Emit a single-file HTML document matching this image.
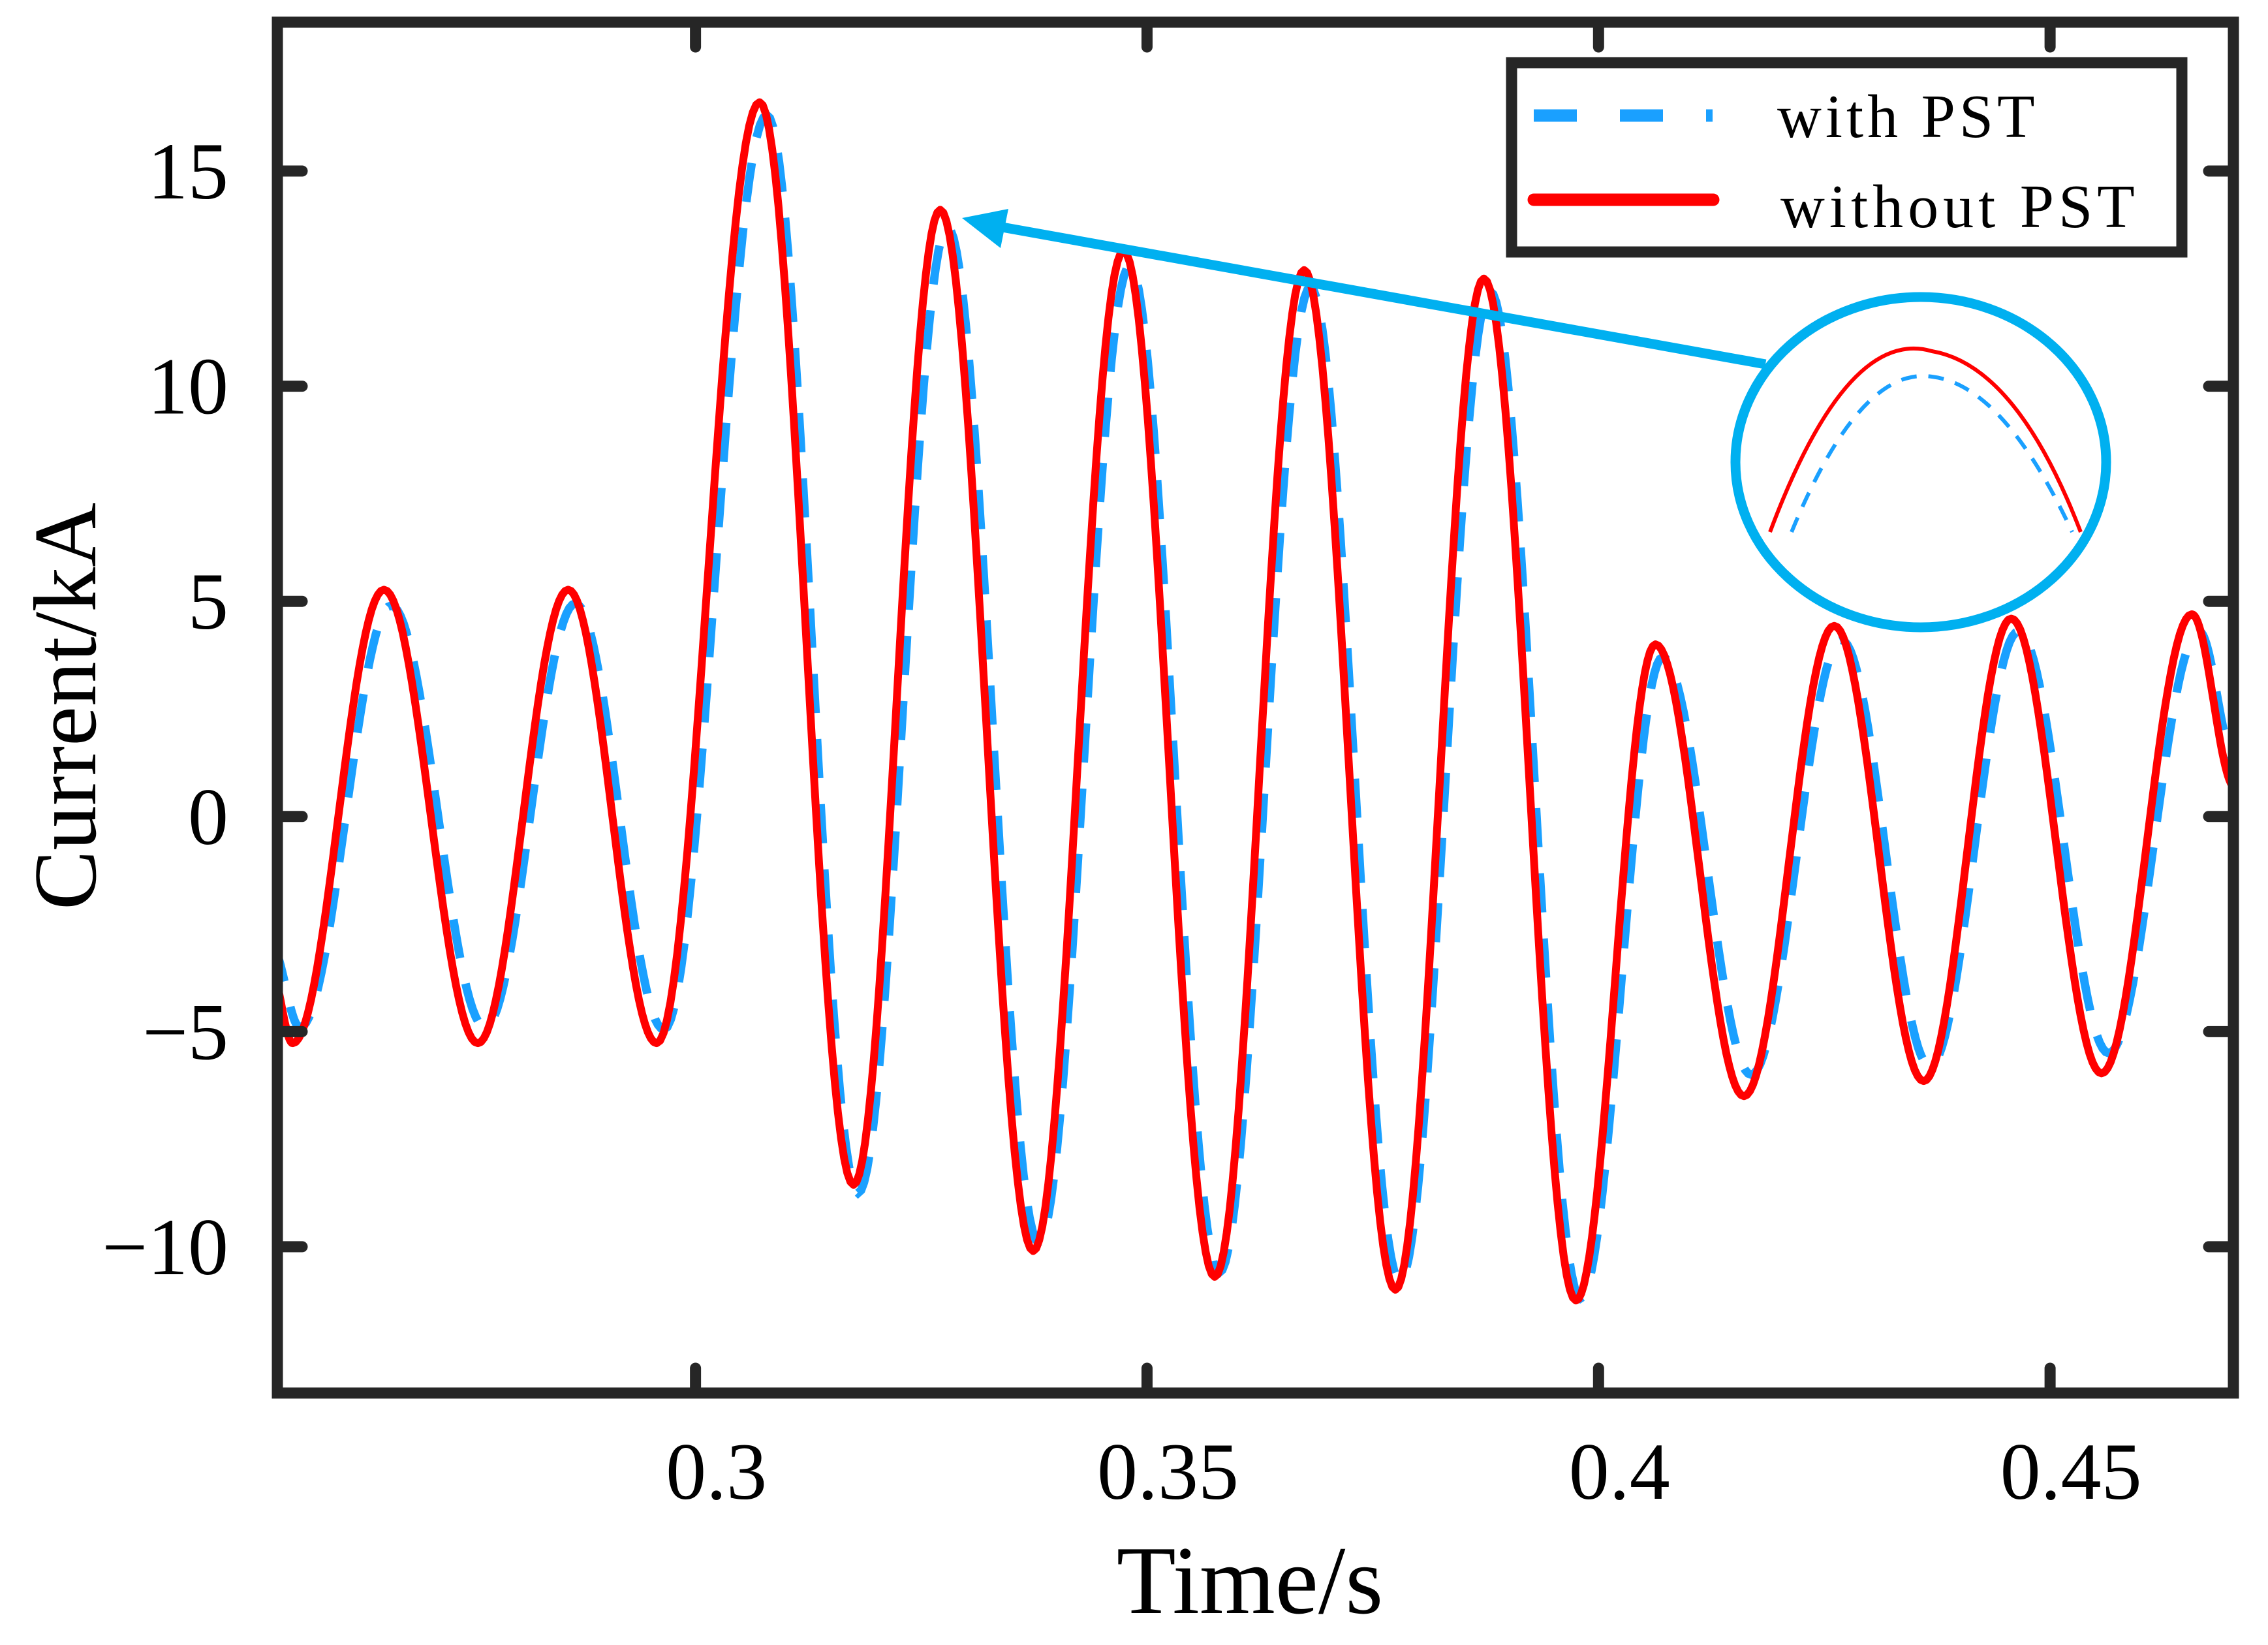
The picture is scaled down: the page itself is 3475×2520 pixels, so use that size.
<!DOCTYPE html>
<html><head><meta charset="utf-8">
<style>
html,body{margin:0;padding:0;background:#fff;}
svg{display:block;}
text{font-family:"Liberation Serif",serif;fill:#000;}
</style></head>
<body>
<svg id="chart" width="3475" height="2520" viewBox="0 0 3475 2520" xmlns="http://www.w3.org/2000/svg">
<rect x="0" y="0" width="3475" height="2520" fill="#fff"/>
<g id="series"></g>
<g id="axes"></g>
<text x="100" y="1082" font-size="137" text-anchor="middle" dominant-baseline="central" transform="rotate(-90 100 1082)">Current/kA</text>
<text x="1915" y="2471" font-size="149" text-anchor="middle">Time/s</text>
<g>
<rect x="2316" y="96" width="1027" height="290" fill="#fff" stroke="#262626" stroke-width="17"/>
<line x1="2350" y1="177" x2="2624" y2="177" stroke="#1AA0FF" stroke-width="19" stroke-dasharray="66 66"/>
<text x="2723" y="210" font-size="94" letter-spacing="6">with PST</text>
<line x1="2350" y1="306" x2="2625" y2="306" stroke="#FF0000" stroke-width="19" stroke-linecap="round"/>
<text x="2728" y="348" font-size="94" letter-spacing="7">without PST</text>
</g>
<g>
<line x1="2705" y1="558" x2="1530" y2="347" stroke="#00B0F0" stroke-width="15"/>
<polygon points="1474,334 1545,320 1533,380" fill="#00B0F0"/>
<ellipse cx="2943" cy="708" rx="284" ry="253" fill="#fff" stroke="#00B0F0" stroke-width="15"/>
<path d="M2712,815 Q2830,500 2960,538 Q3090,560 3188,815" fill="none" stroke="#FF0000" stroke-width="6"/>
<path d="M2745,815 Q2850,560 2960,577 Q3070,590 3175,815" fill="none" stroke="#1AA0FF" stroke-width="6" stroke-dasharray="24 18"/>
</g>
</svg>
<script>
// Data: extrema (time in s, current in kA) of each waveform
const redTimes = [0.2530,0.2554,0.2655,0.2759,0.2859,0.2957,0.3071,0.3175,0.3271,0.3374,0.3474,0.3575,0.3674,0.3775,0.3873,0.3975,0.4063,0.4161,0.4261,0.4360,0.4457,0.4557,0.4657,0.4705];
const redValues = [-3.6,-5.27,5.27,-5.27,5.27,-5.27,16.6,-8.56,14.1,-10.1,13.15,-10.7,12.7,-11.0,12.5,-11.25,4.0,-6.5,4.43,-6.15,4.6,-5.97,4.7,0.67];
const blueTimes = [0.2530,0.2562,0.2663,0.2767,0.2867,0.2965,0.3079,0.3180,0.3279,0.3380,0.3481,0.3580,0.3681,0.3780,0.3880,0.3980,0.4071,0.4169,0.4269,0.4367,0.4465,0.4565,0.4665,0.4705];
const blueValues = [-3.0,-4.9,4.9,-4.9,4.95,-4.95,16.3,-8.75,13.7,-9.9,12.8,-10.6,12.3,-10.8,12.2,-11.2,3.7,-6.0,4.1,-5.8,4.3,-5.5,4.3,1.3];
const xTicks = [0.3,0.35,0.4,0.45];
const xTickLabels = ["0.3","0.35","0.4","0.45"];
const yTicks = [-10,-5,0,5,10,15];
const yTickLabels = ["\u221210","\u22125","0","5","10","15"];

const X0=425,X1=3422,Y0=34,Y1=2134;
const tMin=0.2537,tMax=0.4703,vMin=-13.4,vMax=18.46;
function xs(t){return X0+(t-tMin)/(tMax-tMin)*(X1-X0);}
function ys(v){return Y1-(v-vMin)/(vMax-vMin)*(Y1-Y0);}
const NS="http://www.w3.org/2000/svg";

function buildPath(ts,vs){
  let d="";
  for(let i=0;i<ts.length-1;i++){
    const n=30;
    for(let k=0;k<=n;k++){
      if(i>0&&k===0)continue;
      const f=k/n, t=ts[i]+(ts[i+1]-ts[i])*f;
      const v=vs[i]+(vs[i+1]-vs[i])*(1-Math.cos(Math.PI*f))/2;
      d+=(d?"L":"M")+xs(t).toFixed(1)+","+ys(v).toFixed(1);
    }
  }
  return d;
}
const series=document.getElementById("series");
const clip=document.createElementNS(NS,"clipPath");
clip.setAttribute("id","plotclip");
const cr=document.createElementNS(NS,"rect");
cr.setAttribute("x",X0);cr.setAttribute("y",Y0);cr.setAttribute("width",X1-X0);cr.setAttribute("height",Y1-Y0);
clip.appendChild(cr);series.appendChild(clip);
series.setAttribute("clip-path","url(#plotclip)");

const blue=document.createElementNS(NS,"path");
blue.setAttribute("d",buildPath(blueTimes,blueValues));
blue.setAttribute("fill","none");blue.setAttribute("stroke","#1AA0FF");
blue.setAttribute("stroke-width","13");blue.setAttribute("stroke-dasharray","60 40");


series.appendChild(blue);

const red=document.createElementNS(NS,"path");
red.setAttribute("d",buildPath(redTimes,redValues));
red.setAttribute("fill","none");red.setAttribute("stroke","#FF0000");
red.setAttribute("stroke-width","12");red.setAttribute("stroke-linejoin","round");


series.appendChild(red);

const axes=document.getElementById("axes");
const frame=document.createElementNS(NS,"rect");
frame.setAttribute("x",X0);frame.setAttribute("y",Y0);frame.setAttribute("width",X1-X0);frame.setAttribute("height",Y1-Y0);
frame.setAttribute("fill","none");frame.setAttribute("stroke","#262626");frame.setAttribute("stroke-width","17");


axes.appendChild(frame);

function tick(x1,y1,x2,y2,name){
  const l=document.createElementNS(NS,"line");
  l.setAttribute("x1",x1);l.setAttribute("y1",y1);l.setAttribute("x2",x2);l.setAttribute("y2",y2);
  l.setAttribute("stroke","#262626");l.setAttribute("stroke-width","17");l.setAttribute("stroke-linecap","round");
  
  
  axes.appendChild(l);
}
xTicks.forEach((t,i)=>{
  const x=xs(t);
  tick(x,Y1,x,Y1-38,"x-tick");
  tick(x,Y0,x,Y0+38,"x-tick-top");
  const tx=document.createElementNS(NS,"text");
  tx.setAttribute("x",x+32);tx.setAttribute("y",2296);
  tx.setAttribute("font-size","124");tx.setAttribute("text-anchor","middle");
  tx.textContent=xTickLabels[i];
  
  
  axes.appendChild(tx);
});
yTicks.forEach((v,i)=>{
  const y=ys(v);
  tick(X0,y,X0+38,y,"y-tick");
  tick(X1,y,X1-38,y,"y-tick-right");
  const tx=document.createElementNS(NS,"text");
  tx.setAttribute("x",350);tx.setAttribute("y",y+42);
  tx.setAttribute("font-size","124");tx.setAttribute("text-anchor","end");
  tx.textContent=yTickLabels[i];
  
  
  axes.appendChild(tx);
});
</script>
</body></html>
